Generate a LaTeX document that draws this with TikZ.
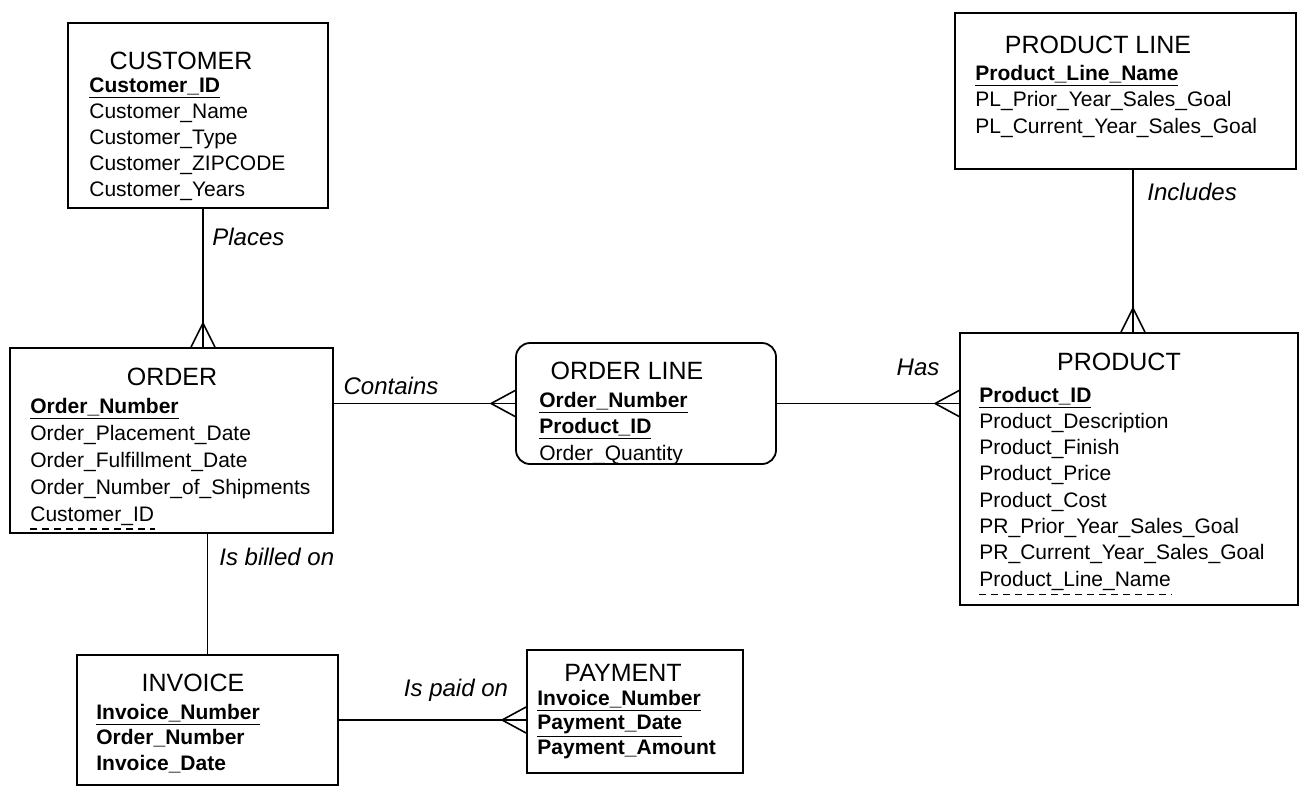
\documentclass[tikz,border=0pt]{standalone}
\usepackage{fontspec}
\setmainfont{Liberation Sans}
\usepackage{tikz}
\usetikzlibrary{positioning,fit,calc}
\tikzset{>=latex}

\tikzset{
  entity/.style={draw, line width=0.9pt, inner sep=0pt},
  title/.style={inner sep=0pt, font=\fontsize{12.5}{15}\selectfont},
  attr/.style={anchor=base west, inner sep=0pt, font=\fontsize{10.5}{13}\selectfont},
  rel/.style={inner sep=0pt, font=\fontsize{12}{14}\selectfont\itshape},
  link/.style={line width=0.8pt},
  fkline/.style={line width=0.6pt, dash pattern=on 3.5pt off 2.5pt},
  crowv/.pic={\draw[link] (0,-24) -- (-12,0) (0,-24) -- (12,0);},
  crowh/.pic={\draw[link] (-24,0) -- (0,-13) (-24,0) -- (0,13);},
}

\begin{document}
\begin{tikzpicture}[x=0.5pt,y=-0.5pt]
    \useasboundingbox (0,0) rectangle (1300,787);

    % entity boxes
    \node [entity, fit={(68,23) (328,208)}] (customer) {};
    \node [entity, fit={(10,348) (333,533)}] (order) {};
    \node [entity, rounded corners=7pt, fit={(516,343) (776,464)}] (orderline) {};
    \node [entity, fit={(955,13) (1296,169)}] (productline) {};
    \node [entity, fit={(960,333) (1298,605)}] (product) {};
    \node [entity, fit={(77,655) (338,785)}] (invoice) {};
    \node [entity, fit={(527,650) (743,773)}] (payment) {};

    % titles
    \node [title] (customer-t) at (181,61) {CUSTOMER};
    \node [title] (order-t) at (172,377) {ORDER};
    \node [title] (orderline-t) at (627,371) {ORDER LINE};
    \node [title] (productline-t) at (1098,45) {PRODUCT LINE};
    \node [title] (product-t) at (1119,362) {PRODUCT};
    \node [title] (invoice-t) at (193,683) {INVOICE};
    \node [title] (payment-t) at (623,673) {PAYMENT};

    % attributes
    \foreach \t [count=\i from 0] in {\underline{\textbf{Customer\_ID}},Customer\_Name,Customer\_Type,Customer\_ZIPCODE,Customer\_Years}
      \node [attr] (cust\i) at (89,{92+26*\i}) {\t};
    \foreach \t [count=\i from 0] in {\underline{\textbf{Order\_Number}},Order\_Placement\_Date,Order\_Fulfillment\_Date,Order\_Number\_of\_Shipments,Customer\_ID}
      \node [attr] (ord\i) at (30,{413+27*\i}) {\t};
    \foreach \t [count=\i from 0] in {\underline{\textbf{Order\_Number}},\underline{\textbf{Product\_ID}},Order\_Quantity}
      \node [attr] (ol\i) at (539,{407+26.5*\i}) {\t};
    \foreach \t [count=\i from 0] in {\underline{\textbf{Product\_Line\_Name}},PL\_Prior\_Year\_Sales\_Goal,PL\_Current\_Year\_Sales\_Goal}
      \node [attr] (pl\i) at (975,{80+26.5*\i}) {\t};
    \foreach \t [count=\i from 0] in {\underline{\textbf{Product\_ID}},Product\_Description,Product\_Finish,Product\_Price,Product\_Cost,PR\_Prior\_Year\_Sales\_Goal,PR\_Current\_Year\_Sales\_Goal,Product\_Line\_Name}
      \node [attr] (prod\i) at (979,{402+26.3*\i}) {\t};
    \foreach \t [count=\i from 0] in {\underline{\textbf{Invoice\_Number}},\textbf{Order\_Number},\textbf{Invoice\_Date}}
      \node [attr] (inv\i) at (96,{719+25.5*\i}) {\t};
    \foreach \t [count=\i from 0] in {\underline{\textbf{Invoice\_Number}},\underline{\textbf{Payment\_Date}},\textbf{Payment\_Amount}}
      \node [attr] (pay\i) at (537,{705+24.5*\i}) {\t};

    % foreign keys
    \draw [fkline] ([yshift=-4pt]ord4.base west) -- ([yshift=-4pt]ord4.base east);
    \draw [fkline] ([yshift=-4pt]prod7.base west) -- ([yshift=-4pt]prod7.base east);

    % relationships
    \path ([xshift=2.5pt]customer.south) coordinate (places-x);
    \draw [link] (places-x) -- (places-x |- order.north) pic {crowv};
    \draw [link] (order.east |- orderline.west) -- (orderline.west) pic {crowh};
    \draw [link] (orderline.east) -- (orderline.east -| product.west) pic {crowh};
    \path ([xshift=3.75pt]productline.south) coordinate (includes-x);
    \draw [link] (includes-x) -- (includes-x |- product.north) pic {crowv};
    \draw [link] (order.south -| invoice.north) -- (invoice.north);
    \draw [link] (invoice.east) -- (invoice.east -| payment.west) pic {crowh};

    \node [rel, anchor=west] (places) at (212,237) {Places};
    \node [rel] (contains) at (391,386) {Contains};
    \node [rel] (has) at (918,367) {Has};
    \node [rel, anchor=west] (includes) at (1147,192) {Includes};
    \node [rel, anchor=west] (billed) at (219,557) {Is billed on};
    \node [rel] (paid) at (456,690) {Is paid on};
\end{tikzpicture}
\end{document}
